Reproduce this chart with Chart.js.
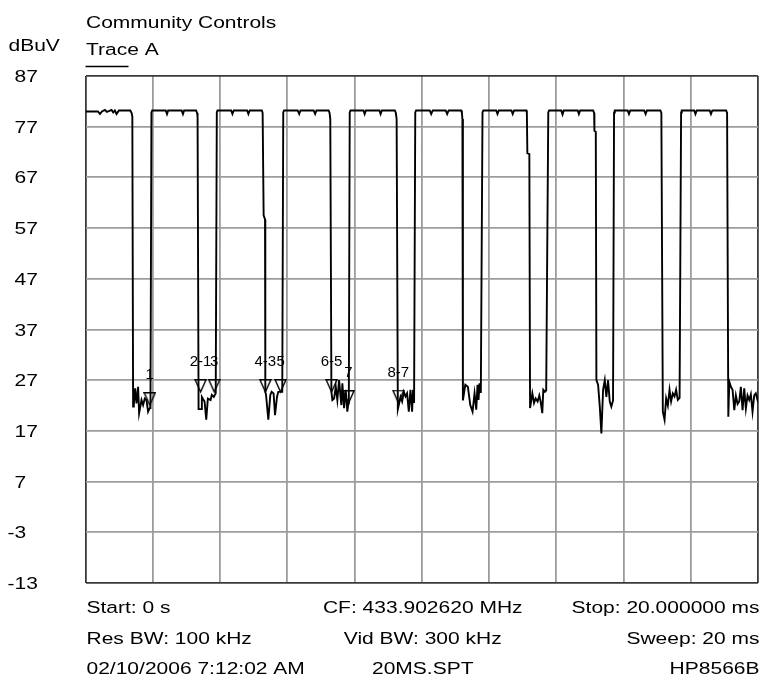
<!DOCTYPE html>
<html><head><meta charset="utf-8">
<script src="https://cdn.jsdelivr.net/npm/chart.js@4.4.1/dist/chart.umd.min.js"></script>
<style>html,body{margin:0;padding:0;background:#fff;}canvas{display:block;}</style>
</head><body>
<canvas id="c" width="765" height="681"></canvas>
<script>
// ---- data ----
const timeTicks = [0, 2, 4, 6, 8, 10, 12, 14, 16, 18, 20];           // ms
const levelTicks = [87, 77, 67, 57, 47, 37, 27, 17, 7, -3, -13];      // dBuV
const traceA = [ // [time ms, level dBuV]
 [0,80.0],[0.370,80.0],[0.430,79.5],[0.489,80.0],[0.578,80.3],[0.637,79.9],[0.711,80.1],[0.776,80.3],[0.824,79.8],[0.874,80.2],[0.924,79.5],[0.993,80.2],[1.333,80.2],[1.372,79.7],[1.393,79.0],[1.416,21.8],
 [1.437,22.1],[1.476,25.4],[1.517,22.4],[1.564,25.7],[1.594,20.5],[1.665,23.1],[1.713,22.1],[1.763,23.4],[1.813,23.1],[1.861,20.8],[1.911,21.5],[1.932,21.5],[1.961,79.8],
 [1.985,80.2],[2.385,80.2],[2.424,79.5],[2.459,80.2],[2.859,80.2],[2.898,79.5],[2.933,80.2],[3.289,80.2],[3.319,79.7],[3.333,79.0],[3.363,21.3],
 [3.443,21.3],[3.461,23.7],[3.541,22.8],[3.591,19.2],[3.639,23.4],[3.719,23.1],[3.757,24.1],[3.816,23.7],[3.873,24.4],[3.905,79.8],
 [3.926,80.2],[4.332,80.2],[4.370,79.5],[4.409,80.2],[4.806,80.2],[4.844,79.5],[4.883,80.2],[5.244,80.2],[5.268,79.7],[5.298,59.5],[5.339,58.7],[5.348,24.7],
 [5.369,24.1],[5.437,19.2],[5.496,24.1],[5.535,24.7],[5.594,24.4],[5.636,20.1],[5.695,23.7],[5.733,24.7],[5.793,24.7],[5.852,24.7],[5.881,79.8],
 [5.905,80.2],[6.311,80.2],[6.356,79.5],[6.394,80.2],[6.785,80.2],[6.830,79.5],[6.868,80.2],[7.230,80.2],[7.259,79.7],[7.280,78.5],[7.313,24.7],
 [7.342,23.1],[7.393,23.4],[7.443,25.7],[7.490,23.1],[7.541,27.0],[7.609,22.1],[7.639,26.4],[7.689,21.5],[7.739,25.1],[7.787,20.8],[7.816,22.4],[7.831,23.0],[7.858,79.8],
 [7.881,80.2],[8.267,80.2],[8.302,79.5],[8.341,80.2],[8.741,80.2],[8.776,79.5],[8.815,80.2],[9.200,80.2],[9.230,79.7],[9.253,78.5],[9.289,21.3],
 [9.369,23.7],[9.416,22.8],[9.467,24.7],[9.517,23.8],[9.564,24.4],[9.615,20.8],[9.665,25.1],[9.713,20.8],[9.742,25.1],[9.772,22.5],[9.807,79.8],
 [9.831,80.2],[10.237,80.2],[10.281,79.5],[10.326,80.2],[10.711,80.2],[10.756,79.5],[10.800,80.2],[11.170,80.2],[11.194,79.7],[11.209,78.5],[11.224,23.0],
 [11.295,26.1],[11.372,25.7],[11.443,22.1],[11.511,20.8],[11.570,24.4],[11.621,21.2],[11.659,26.1],[11.689,23.1],[11.719,26.4],[11.757,24.5],[11.807,79.8],
 [11.831,80.2],[12.213,80.2],[12.252,79.5],[12.290,80.2],[12.667,80.2],[12.705,79.5],[12.747,80.2],[13.111,80.2],[13.126,79.7],[13.141,71.8],[13.200,71.6],[13.221,21.5],
 [13.289,24.4],[13.339,22.5],[13.387,23.4],[13.446,22.8],[13.496,24.0],[13.535,22.8],[13.585,20.5],[13.615,25.1],[13.665,24.7],[13.701,25.0],[13.763,79.8],
 [13.787,80.2],[14.148,80.2],[14.187,79.4],[14.222,80.2],[14.637,80.2],[14.673,79.5],[14.711,80.2],[15.096,80.2],[15.126,79.7],[15.135,76.2],[15.176,76.0],[15.194,27.0],
 [15.244,26.1],[15.295,21.8],[15.342,16.5],[15.393,25.1],[15.443,27.0],[15.490,23.7],[15.541,27.0],[15.591,22.8],[15.639,21.8],[15.689,23.0],[15.719,79.8],
 [15.742,80.2],[16.124,80.2],[16.163,79.5],[16.201,80.2],[16.616,80.2],[16.658,79.5],[16.696,80.2],[17.096,80.2],[17.126,79.7],[17.170,20.8],
 [17.221,19.2],[17.268,23.4],[17.319,22.0],[17.369,25.1],[17.416,22.8],[17.467,24.4],[17.517,23.8],[17.564,25.1],[17.615,23.1],[17.668,23.5],[17.713,79.8],
 [17.733,80.2],[18.104,80.2],[18.139,79.5],[18.178,80.2],[18.563,80.2],[18.601,79.5],[18.643,80.2],[19.052,80.2],[19.081,79.7],[19.117,19.8],
 [19.147,26.7],[19.194,25.7],[19.244,25.1],[19.295,21.1],[19.342,24.0],[19.393,22.3],[19.443,22.8],[19.490,25.7],[19.541,21.1],[19.591,25.4],[19.639,21.4],[19.689,24.0],[19.739,23.1],[19.787,24.2],[19.837,20.8],[19.887,24.0],[19.935,24.4],[19.985,23.1],[20.0,23.4]
];
const markerNames = ['1', '2-1', '3', '4-3', '5', '6-5', '7', '8-7'];
const markerMs    = [1.911, 3.422, 3.828, 5.348, 5.801, 7.319, 7.822, 9.304];
const markerDbuv  = [22.1, 24.7, 24.7, 24.7, 24.7, 24.7, 22.5, 22.6];
const titleText = 'Community Controls';
const unitText = 'dBuV';
const traceName = 'Trace A';
const footerLeft   = ['Start: 0 s', 'Res BW: 100 kHz', '02/10/2006 7:12:02 AM'];
const footerCenter = ['CF: 433.902620 MHz', 'Vid BW: 300 kHz', '20MS.SPT'];
const footerRight  = ['Stop: 20.000000 ms', 'Sweep: 20 ms', 'HP8566B'];

// ---- styling helpers ----
const FONT = '"Liberation Sans", Arial, Helvetica, sans-serif';
const TEXT_SIZE = 21, VSCALE = 0.79;
function wideText(ctx, text, x, baseline, align) {
  ctx.save();
  ctx.font = TEXT_SIZE + 'px ' + FONT;
  ctx.fillStyle = '#000';
  ctx.textAlign = align || 'left';
  ctx.textBaseline = 'alphabetic';
  ctx.scale(1, VSCALE);
  ctx.fillText(text, x, baseline / VSCALE);
  ctx.restore();
}
function markerGlyph() {
  const c = document.createElement('canvas');
  c.width = 13; c.height = 26;
  const g = c.getContext('2d');
  g.strokeStyle = '#000'; g.lineWidth = 1.4;
  g.beginPath(); g.moveTo(1, 0.8); g.lineTo(12, 0.8); g.lineTo(6.5, 13); g.closePath(); g.stroke();
  return c;
}

const textPlugin = {
  id: 'analyzerText',
  afterDraw(chart) {
    const ctx = chart.ctx, ys = chart.scales.y, xs = chart.scales.x, area = chart.chartArea;
    // header
    wideText(ctx, titleText, area.left + 0.5, 27.5);
    wideText(ctx, unitText, 8.5, 50.5);
    wideText(ctx, traceName, area.left + 0.5, 55);
    ctx.save(); ctx.strokeStyle = '#000'; ctx.lineWidth = 1.5;
    ctx.beginPath(); ctx.moveTo(area.left, 66.5); ctx.lineTo(area.left + 43, 66.5); ctx.stroke(); ctx.restore();
    // y tick labels
    ctx.save(); ctx.font = TEXT_SIZE + 'px ' + FONT;
    const minusW = ctx.measureText('-').width; ctx.restore();
    levelTicks.forEach(v => {
      const py = ys.getPixelForValue(v);
      wideText(ctx, String(v), 7.5 + (v < 0 ? 0 : minusW), py + 6);
    });
    // footer
    const rows = [613, 644, 674];
    const mid = (area.left + area.right) / 2;
    rows.forEach((b, i) => {
      wideText(ctx, footerLeft[i], area.left + 1, b, 'left');
      wideText(ctx, footerCenter[i], mid + 1, b, 'center');
      wideText(ctx, footerRight[i], area.right + 1.5, b, 'right');
    });
    // marker labels
    ctx.save();
    ctx.font = '15px ' + FONT; ctx.fillStyle = '#000';
    ctx.textAlign = 'center'; ctx.textBaseline = 'middle';
    markerNames.forEach((n, i) => {
      ctx.fillText(n, xs.getPixelForValue(markerMs[i]), ys.getPixelForValue(markerDbuv[i]) - 30);
    });
    ctx.restore();
  }
};

const edge = (lo, hi) => (c) => (c.tick && (c.tick.value === lo || c.tick.value === hi)) ? '#3a3a3a' : '#9c9c9c';

new Chart(document.getElementById('c'), {
  type: 'scatter',
  data: {
    datasets: [
      {
        label: traceName,
        data: traceA.map(p => ({ x: p[0], y: p[1] })),
        showLine: true, borderColor: '#000', borderWidth: 1.9,
        pointRadius: 0, tension: 0, fill: false
      },
      {
        label: 'markers',
        data: markerMs.map((t, i) => ({ x: t, y: markerDbuv[i] })),
        showLine: false, pointStyle: markerGlyph(), pointRadius: 6
      }
    ]
  },
  options: {
    responsive: false, animation: false, devicePixelRatio: 1,
    layout: { padding: { left: 85.5, right: 4.5, top: 76, bottom: 98 } },
    plugins: { legend: { display: false }, tooltip: { enabled: false }, title: { display: false } },
    scales: {
      x: {
        type: 'linear', min: 0, max: 20,
        afterBuildTicks: s => { s.ticks = timeTicks.map(v => ({ value: v })); },
        ticks: { display: false },
        grid: { color: edge(0, 20), lineWidth: 1.8, drawTicks: false },
        border: { display: false }
      },
      y: {
        type: 'linear', min: -13, max: 87,
        afterBuildTicks: s => { s.ticks = levelTicks.map(v => ({ value: v })); },
        ticks: { display: false },
        grid: { color: edge(-13, 87), lineWidth: 1.8, drawTicks: false },
        border: { display: false }
      }
    }
  },
  plugins: [textPlugin]
});
</script>
</body></html>
